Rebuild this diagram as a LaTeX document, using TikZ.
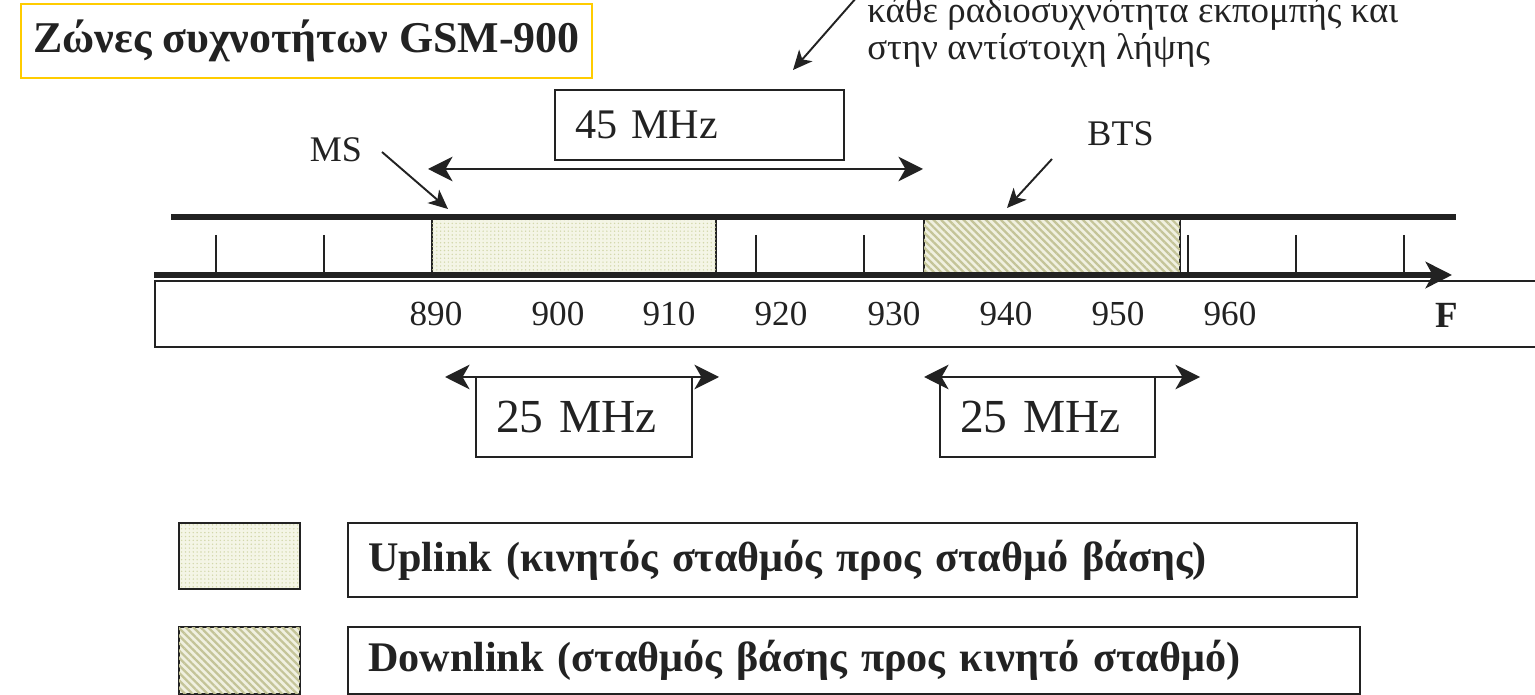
\documentclass[tikz,border=0pt]{standalone}
\usepackage{fontspec}
\setmainfont{Liberation Serif}
\usetikzlibrary{arrows.meta,patterns.meta}
\definecolor{ink}{HTML}{222222}
\definecolor{gold}{HTML}{FFCC00}
\definecolor{upbg}{HTML}{F4F5E6}
\definecolor{updot}{HTML}{D2D7AA}
\definecolor{dnbg}{HTML}{F0F0E0}
\definecolor{dnline}{HTML}{C4C498}
\tikzset{
  bigtip/.tip={Stealth[length=14pt,width=14pt,inset=4pt]},
  smalltip/.tip={Stealth[length=11pt,width=10pt,inset=3pt]},
  dblarrow/.style={draw=ink,line width=1.1pt,bigtip-bigtip},
  ptrarrow/.style={draw=ink,line width=1.1pt,-smalltip},
  thickline/.style={draw=ink,line width=3.4pt},
  tickline/.style={draw=ink,line width=1.1pt},
  valbox/.style={draw=ink,line width=1.1pt,inner ysep=0pt,inner xsep=0.4cm,align=left,text=ink},
  upfill/.style={fill=upbg,postaction={pattern={Dots[radius=0.45pt,distance=2.2pt]},pattern color=updot}},
  dnfill/.style={fill=dnbg,postaction={pattern={Lines[angle=-45,distance=3pt,line width=1.3pt]},pattern color=dnline}},
  band/.style={draw=ink,line width=1.1pt,inner sep=0pt},
  axlabel/.style={anchor=base,text=ink,font=\fontsize{20}{24}\selectfont,inner sep=0pt},
  plain/.style={text=ink,inner sep=0pt}
}
\begin{document}
\begin{tikzpicture}[x=0.02cm,y=-0.02cm]
\useasboundingbox (0,0) rectangle (1535,695);
% title
\node[draw=gold,line width=1.2pt,minimum width=11.42cm,minimum height=1.48cm,inner sep=0pt,text=ink,
  font=\fontsize{25}{30}\selectfont\bfseries] (title) at (306.5,41) {Ζώνες συχνοτήτων GSM-900};
% note text
\node[plain,anchor=base west,font=\fontsize{21}{25}\selectfont] (note1) at (867,23) {κάθε ραδιοσυχνότητα εκπομπής και};
\node[plain,anchor=base west,font=\fontsize{21}{25}\selectfont] (note2) at (867,60) {στην αντίστοιχη λήψης};
\coordinate (n0) at (857,-3);
\coordinate (n1) at (793,70);
\draw[ptrarrow] (n0) -- (n1);
% 45 MHz
\node[valbox,minimum width=5.78cm,minimum height=1.4cm,text width=4.98cm,font=\fontsize{24}{28}\selectfont] (box45) at (699.5,125) {45 MHz};
\coordinate (a45l) at (428,169);
\coordinate (a45r) at (923,169);
\draw[dblarrow] (a45l) -- (a45r);
% MS / BTS
\node[plain,anchor=base,font=\fontsize{20.5}{24}\selectfont] (ms) at (336,162) {MS};
\node[plain,anchor=base,font=\fontsize{20.5}{24}\selectfont] (bts) at (1120.5,146) {BTS};
\coordinate (ms0) at (382,152);
\coordinate (ms1) at (448,209);
\draw[ptrarrow] (ms0) -- (ms1);
\coordinate (bts0) at (1052,159);
\coordinate (bts1) at (1007,208);
\draw[ptrarrow] (bts0) -- (bts1);
% bands
\node[band,upfill,minimum width=5.68cm,minimum height=1.12cm] (up) at (574,246) {};
\node[band,dnfill,minimum width=5.12cm,minimum height=1.12cm] (down) at (1052,246) {};
% lines
\coordinate (tl0) at (171,217);
\coordinate (tl1) at (1456,217);
\draw[thickline] (tl0) -- (tl1);
\foreach \x in {216,324,756,864,1188,1296,1404}{
  \draw[tickline] (\x,235) -- (\x,273);
}
\coordinate (ax0) at (154,275);
\coordinate (ax1) at (1452,275);
\draw[draw=ink,line width=3.6pt,-{Stealth[length=15pt,width=15pt,inset=4pt]}] (ax0) -- (ax1);
% strip
\draw[draw=ink,line width=1.1pt] (1545,281) -- (155,281) -- (155,347) -- (1545,347);
\node[axlabel] (l890) at (436,326) {890};
\node[axlabel] (l900) at (558,326) {900};
\node[axlabel] (l910) at (669,326) {910};
\node[axlabel] (l920) at (781,326) {920};
\node[axlabel] (l930) at (894,326) {930};
\node[axlabel] (l940) at (1006,326) {940};
\node[axlabel] (l950) at (1118,326) {950};
\node[axlabel] (l960) at (1230,326) {960};
\node[axlabel,font=\fontsize{21}{24}\selectfont\bfseries] (lF) at (1447,328) {F};
% 25 MHz
\node[valbox,minimum width=4.32cm,minimum height=1.6cm,text width=3.52cm,font=\fontsize{27}{32}\selectfont] (box25a) at (584,417) {25 MHz};
\node[valbox,minimum width=4.3cm,minimum height=1.6cm,text width=3.5cm,font=\fontsize{27}{32}\selectfont] (box25b) at (1047.5,417) {25 MHz};
\coordinate (a25al) at (445,377);
\coordinate (a25ar) at (719,377);
\coordinate (a25bl) at (924,377);
\coordinate (a25br) at (1200,377);
\draw[dblarrow] (a25al) -- (a25ar);
\draw[dblarrow] (a25bl) -- (a25br);
% legend
\node[band,upfill,minimum width=2.42cm,minimum height=1.32cm] (swup) at (239.5,556) {};
\node[band,dnfill,minimum width=2.42cm,minimum height=1.34cm] (swdn) at (239.5,660.5) {};
\node[valbox,minimum width=20.18cm,minimum height=1.48cm,text width=19.38cm,font=\fontsize{24}{28}\selectfont\bfseries] (legup) at (852.5,560) {Uplink (κινητός σταθμός προς σταθμό βάσης)};
\node[valbox,minimum width=20.24cm,minimum height=1.34cm,text width=19.44cm,font=\fontsize{24}{28}\selectfont\bfseries] (legdn) at (854,660.5) {Downlink (σταθμός βάσης προς κινητό σταθμό)};
\end{tikzpicture}
\end{document}
